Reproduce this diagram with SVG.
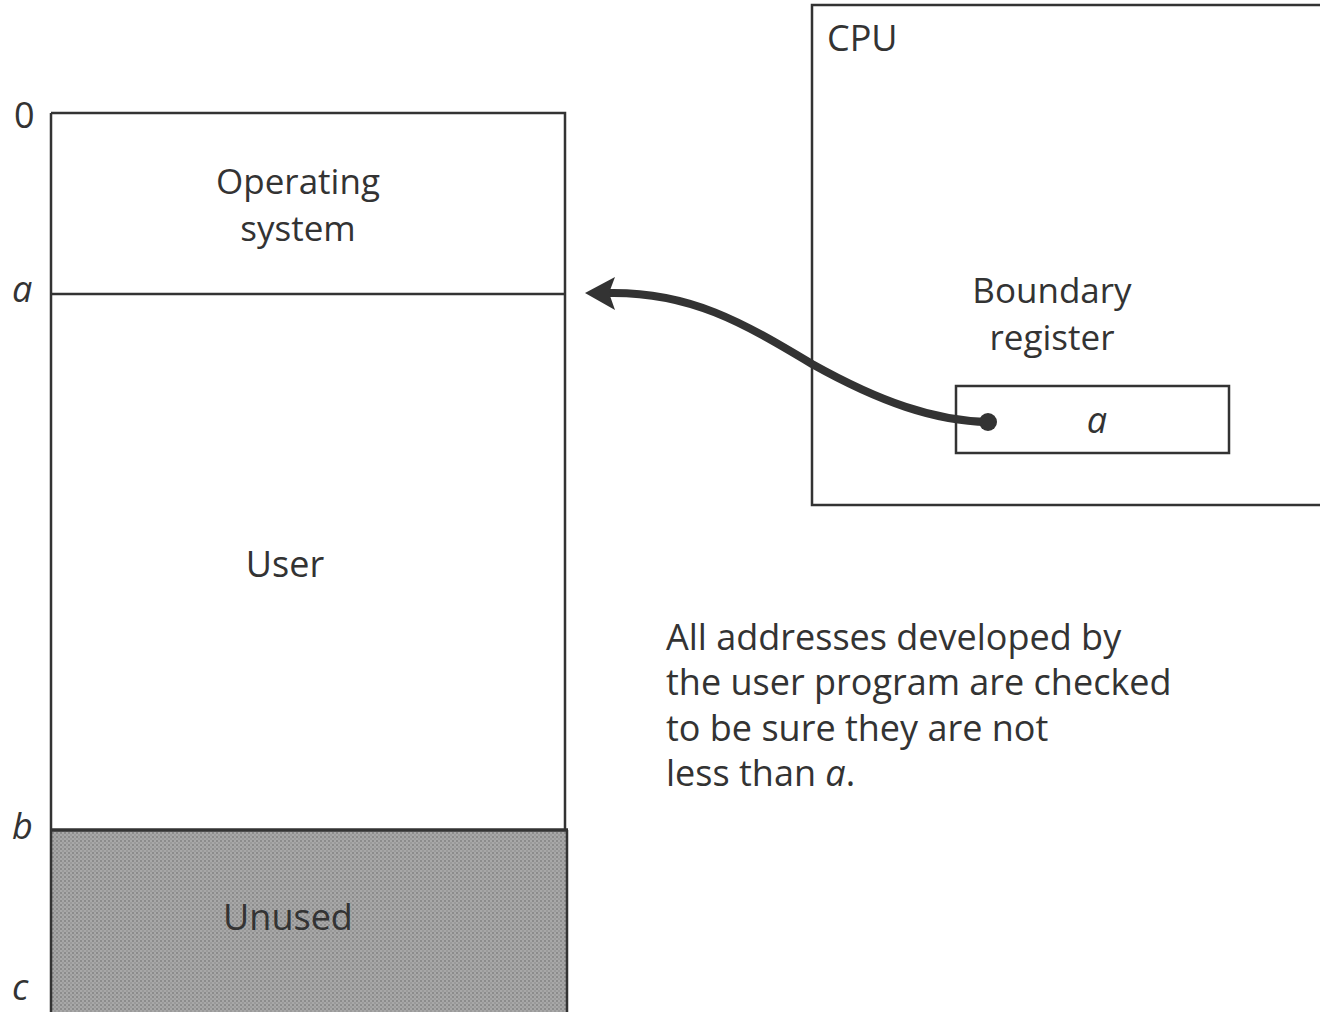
<svg xmlns="http://www.w3.org/2000/svg" width="1320" height="1013" viewBox="0 0 1320 1013">
<style>
text{font-family:"Open Sans","DejaVu Sans",sans-serif;font-size:36px;fill:#333}
.two{font-size:35px}
.it{font-style:italic}
.box{fill:none;stroke:#333;stroke-width:2.5}
</style>
<defs>
<pattern id="stip" width="4" height="4" patternUnits="userSpaceOnUse">
<rect width="4" height="4" fill="#a8a8a8"/>
<rect width="2" height="2" fill="#8c8c8c"/>
<rect x="2" y="2" width="2" height="2" fill="#9a9a9a"/>
</pattern>
</defs>
<rect width="1320" height="1013" fill="#fff"/>
<g id="memory">
<rect x="52" y="830" width="515" height="182" fill="url(#stip)"/>
<path class="box" d="M51,113 H565 V830 M51,113 V1012 M567,830 V1012"/>
<line x1="51" y1="294" x2="566" y2="294" stroke="#333" stroke-width="2.5"/>
<line x1="52" y1="830" x2="568" y2="830" stroke="#333" stroke-width="3.5"/>
<text class="two" x="298" y="194" text-anchor="middle">Operating</text>
<text class="two" x="298" y="241" text-anchor="middle">system</text>
<text x="285" y="577" text-anchor="middle">User</text>
<text x="288" y="930" text-anchor="middle">Unused</text>
</g>
<g id="labels">
<text x="14" y="128">0</text>
<text x="12" y="302" class="it">a</text>
<text x="12" y="839" class="it">b</text>
<text x="12" y="1000" class="it">c</text>
</g>
<g id="cpu">
<rect class="box" x="812" y="5" width="520" height="500"/>
<text x="827" y="51">CPU</text>
<text class="two" x="1052" y="303" text-anchor="middle">Boundary</text>
<text class="two" x="1052" y="350" text-anchor="middle">register</text>
</g>
<g id="register">
<rect class="box" x="956" y="386" width="273" height="67"/>
<text x="1097" y="433" text-anchor="middle" class="it">a</text>
</g>
<g id="note">
<text><tspan x="666" y="650">All addresses developed by</tspan><tspan x="666" y="695">the user program are checked</tspan><tspan x="666" y="741">to be sure they are not</tspan><tspan x="666" y="786">less than <tspan class="it">a</tspan>.</tspan></text>
</g>
<g id="connectors">
<path d="M988,422 C935,421 880,402 812,364 C742,322 690,292 610,293" fill="none" stroke="#333" stroke-width="8" stroke-linecap="round"/>
<circle cx="988" cy="422" r="9" fill="#333"/>
<polygon points="585,293 615,277 609,293 615,310" fill="#333"/>
</g>
</svg>
